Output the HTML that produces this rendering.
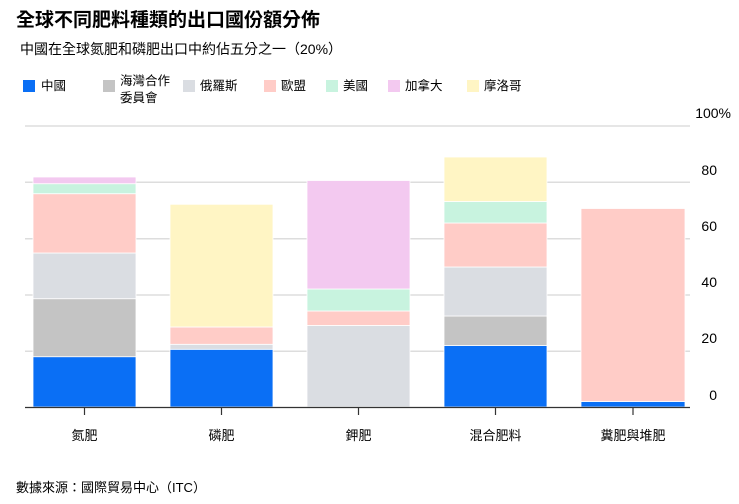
<!DOCTYPE html>
<html><head><meta charset="utf-8"><style>
body{margin:0;background:#fff;width:739px;height:504px;overflow:hidden;font-family:"Liberation Sans","Noto Sans CJK TC",sans-serif;color:#111}
</style></head><body>
<svg width="739" height="504" xmlns="http://www.w3.org/2000/svg" style="position:absolute;left:0;top:0">
<text x="16" y="26" font-size="19" font-weight="bold" font-family="Liberation Sans,Noto Sans CJK TC,sans-serif">全球不同肥料種類的出口國份額分佈</text>
<text x="20" y="54" font-size="14" font-family="Liberation Sans,Noto Sans CJK TC,sans-serif">中國在全球氮肥和磷肥出口中約佔五分之一（20%）</text>
<g font-size="12.5" font-family="Liberation Sans,Noto Sans CJK TC,sans-serif">
<rect x="23" y="80" width="12" height="12" fill="#0a6ff5"/><text x="41" y="90">中國</text>
<rect x="103" y="80" width="12" height="12" fill="#c4c4c4"/><text x="120" y="85">海灣合作</text><text x="120" y="102">委員會</text>
<rect x="183" y="80" width="12" height="12" fill="#dadde2"/><text x="200" y="90">俄羅斯</text>
<rect x="264" y="80" width="12" height="12" fill="#ffccc7"/><text x="281" y="90">歐盟</text>
<rect x="326" y="80" width="12" height="12" fill="#c8f3df"/><text x="343" y="90">美國</text>
<rect x="388" y="80" width="12" height="12" fill="#f3c9f0"/><text x="405" y="90">加拿大</text>
<rect x="467" y="80" width="12" height="12" fill="#fff5c4"/><text x="484" y="90">摩洛哥</text>
</g>
<g stroke="#ddd" stroke-width="1.5">
<line x1="25" x2="690" y1="126" y2="126"/><line x1="25" x2="690" y1="182.3" y2="182.3"/><line x1="25" x2="690" y1="238.7" y2="238.7"/><line x1="25" x2="690" y1="295" y2="295"/><line x1="25" x2="690" y1="351.3" y2="351.3"/>
</g>
<g font-size="14" font-family="Liberation Sans,sans-serif" text-anchor="end">
<text x="731" y="118">100%</text><text x="717" y="175">80</text><text x="717" y="231">60</text><text x="717" y="287">40</text><text x="717" y="343">20</text><text x="717" y="400">0</text>
</g>
<g stroke="#fff" stroke-width="0.8">
<!-- nitrogen -->
<rect x="33" y="356.7" width="103" height="50.3" fill="#0a6ff5"/>
<rect x="33" y="298.7" width="103" height="58" fill="#c4c4c4"/>
<rect x="33" y="253" width="103" height="45.7" fill="#dadde2"/>
<rect x="33" y="193.7" width="103" height="59.3" fill="#ffccc7"/>
<rect x="33" y="183.7" width="103" height="10" fill="#c8f3df"/>
<rect x="33" y="177" width="103" height="6.7" fill="#f3c9f0"/>
<!-- phosphate -->
<rect x="170" y="349.3" width="103" height="57.7" fill="#0a6ff5"/>
<rect x="170" y="344.3" width="103" height="5" fill="#dadde2"/>
<rect x="170" y="327" width="103" height="17.3" fill="#ffccc7"/>
<rect x="170" y="204.3" width="103" height="122.7" fill="#fff5c4"/>
<!-- potash -->
<rect x="307" y="325.5" width="103" height="81.5" fill="#dadde2"/>
<rect x="307" y="311" width="103" height="14.5" fill="#ffccc7"/>
<rect x="307" y="289" width="103" height="22" fill="#c8f3df"/>
<rect x="307" y="180.5" width="103" height="108.5" fill="#f3c9f0"/>
<!-- mixed -->
<rect x="444" y="345.5" width="103" height="61.5" fill="#0a6ff5"/>
<rect x="444" y="316" width="103" height="29.5" fill="#c4c4c4"/>
<rect x="444" y="267" width="103" height="49" fill="#dadde2"/>
<rect x="444" y="223" width="103" height="44" fill="#ffccc7"/>
<rect x="444" y="201.5" width="103" height="21.5" fill="#c8f3df"/>
<rect x="444" y="157" width="103" height="44.5" fill="#fff5c4"/>
<!-- manure -->
<rect x="581" y="401.5" width="104" height="5.5" fill="#0a6ff5"/>
<rect x="581" y="208.5" width="104" height="193" fill="#ffccc7"/>
</g>
<line x1="25" x2="690" y1="407.5" y2="407.5" stroke="#333" stroke-width="1.2"/>
<g stroke="#333" stroke-width="1.2">
<line x1="84.5" x2="84.5" y1="407" y2="415"/><line x1="221.5" x2="221.5" y1="407" y2="415"/><line x1="358.5" x2="358.5" y1="407" y2="415"/><line x1="495.5" x2="495.5" y1="407" y2="415"/><line x1="633" x2="633" y1="407" y2="415"/>
</g>
<g font-size="13" font-family="Liberation Sans,Noto Sans CJK TC,sans-serif" text-anchor="middle">
<text x="84.5" y="440">氮肥</text><text x="221.5" y="440">磷肥</text><text x="358.5" y="440">鉀肥</text><text x="495.5" y="440">混合肥料</text><text x="633" y="440">糞肥與堆肥</text>
</g>
<text x="16" y="492" font-size="13" font-family="Liberation Sans,Noto Sans CJK TC,sans-serif">數據來源：國際貿易中心（ITC）</text>
</svg>
</body></html>
